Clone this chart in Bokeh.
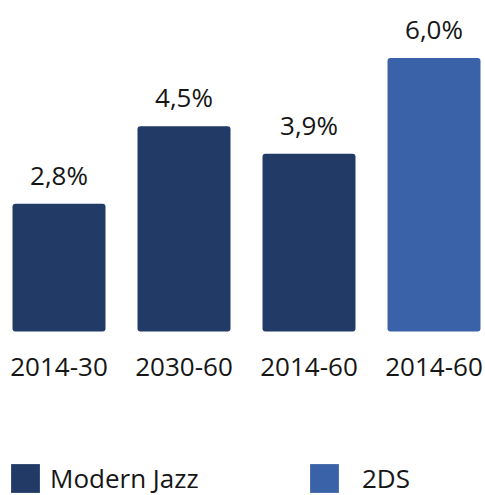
from bokeh.plotting import figure
from bokeh.models import ColumnDataSource, Range1d, Legend, LegendItem
from bokeh.core.properties import value
from bokeh.embed import file_html
from bokeh.resources import INLINE

# ---- data ----
periods = ["2014-30", "2030-60", "2014-60", "2014-60"]
growth = [2.8, 4.5, 3.9, 6.0]
scenario = ["Modern Jazz", "Modern Jazz", "Modern Jazz", "2DS"]
scenario_names = ["Modern Jazz", "2DS"]
scenario_colors = ["#213a66", "#3a62a8"]

# ---- layout (pixels -> data ranges) ----
W, H = 485, 495
PX_X = 125.0      # pixels per category step
PX_Y = 45.6       # pixels per percentage point
x_start = -58.5 / PX_X
x_end = x_start + W / PX_X
y_end = 331 / PX_Y
y_start = y_end - H / PX_Y

FONT = "Open Sans"
TXT = "#161616"

idx = list(range(len(periods)))
color_map = dict(zip(scenario_names, scenario_colors))
src = ColumnDataSource(dict(
    x=idx,
    top=growth,
    color=[color_map[s] for s in scenario],
    label=[f"{v:.1f}".replace(".", ",") + "%" for v in growth],
    label_y=[v + 29 / PX_Y for v in growth],
    cat=periods,
    cat_y=[-35 / PX_Y] * len(periods),
))

p = figure(width=W, height=H, output_backend="svg", toolbar_location=None,
           x_range=Range1d(x_start, x_end), y_range=Range1d(y_start, y_end),
           min_border=0)
p.axis.visible = False
p.grid.visible = False
p.outline_line_color = None
p.background_fill_color = "white"
p.border_fill_color = "white"

bars = p.vbar(x="x", top="top", bottom=0, width=0.744, source=src,
              fill_color="color", line_color=None, border_radius=3)

p.text(x="x", y="label_y", text="label", source=src, text_align="center",
       text_baseline="alphabetic", text_font=value(FONT),
       text_font_size="26px", text_color=TXT)
p.text(x="x", y="cat_y", text="cat", source=src, text_align="center",
       text_baseline="alphabetic", text_font=value(FONT),
       text_font_size="26px", text_color=TXT)

first_idx = [scenario.index(s) for s in scenario_names]
leg_locs = [(7, -1), (306, -1)]
leg_standoff = [7, 20]
for s, i, loc, so in zip(scenario_names, first_idx, leg_locs, leg_standoff):
    legend = Legend(
        items=[LegendItem(label=s, renderers=[bars], index=i)],
        orientation="horizontal", location=loc, padding=0, margin=0,
        label_standoff=so, glyph_width=36, glyph_height=36,
        label_text_font=FONT, label_text_font_size="26px",
        label_text_color=TXT,
        border_line_alpha=0, background_fill_alpha=0,
    )
    p.add_layout(legend)

open("out.html", "w").write(file_html(p, INLINE))
